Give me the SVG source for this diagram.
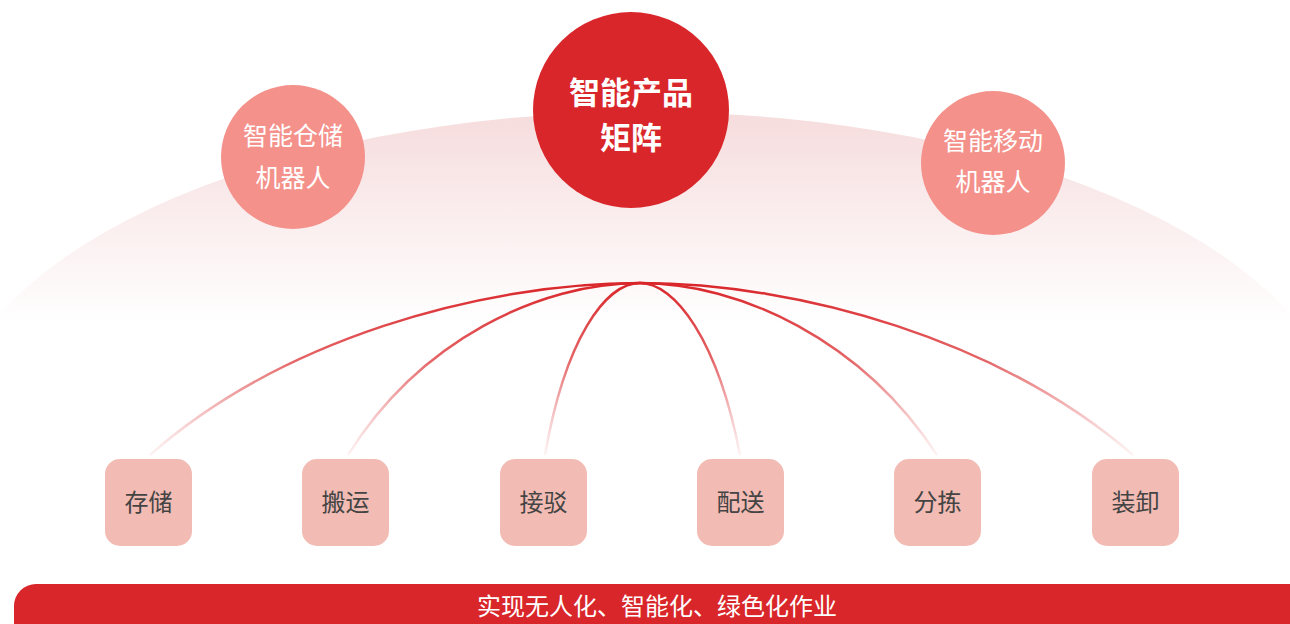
<svg xmlns="http://www.w3.org/2000/svg" width="1290" height="624" viewBox="0 0 1290 624">
  <defs>
    <linearGradient id="bgGrad" gradientUnits="userSpaceOnUse" x1="0" y1="112" x2="0" y2="325">
      <stop offset="0" stop-color="#f6dcdd"/>
      <stop offset="1" stop-color="#ffffff"/>
    </linearGradient>
    <linearGradient id="lineGrad" gradientUnits="userSpaceOnUse" x1="0" y1="283" x2="0" y2="456">
      <stop offset="0" stop-color="#d9262a" stop-opacity="1"/>
      <stop offset="0.45" stop-color="#e04a4d" stop-opacity="0.85"/>
      <stop offset="1" stop-color="#ec8f8f" stop-opacity="0.1"/>
    </linearGradient>
  </defs>
  <style>
    .cjk { font-family: "Noto Sans CJK SC", "Noto Sans", sans-serif; text-anchor: middle; }
    .main { fill: #d9262a; }
    .sub { fill: #f4918b; }
    .box { fill: #f2bbb3; }
    .t-main { fill: #ffffff; font-size: 31px; font-weight: bold; }
    .t-sub { fill: #ffffff; font-size: 25px; }
    .t-box { fill: #444444; font-size: 24px; }
    .t-bar { fill: #ffffff; font-size: 24px; }
    .link { fill: none; stroke: url(#lineGrad); stroke-width: 2.5; }
  </style>
  <rect width="1290" height="624" fill="#ffffff"/>
  <ellipse cx="645" cy="442" rx="700" ry="330" fill="url(#bgGrad)"/>
  <rect x="0" y="325" width="1290" height="299" fill="#ffffff"/>

  <g id="connectors">
    <path class="link" d="M640,283 C480,283 280,340 150,455"/>
    <path class="link" d="M640,283 C540,283 420,340 348,455"/>
    <path class="link" d="M640,283 C605,283 565,340 545,455"/>
    <path class="link" d="M640,283 C675,283 718,340 740,455"/>
    <path class="link" d="M640,283 C740,283 862,340 937,455"/>
    <path class="link" d="M640,283 C800,283 1000,340 1133,455"/>
  </g>

  <g id="node-main">
    <circle class="main" cx="631" cy="110" r="98"/>
    <text class="cjk t-main" x="631" y="104">智能产品</text>
    <text class="cjk t-main" x="631" y="149">矩阵</text>
  </g>
  <g id="node-warehouse">
    <circle class="sub" cx="293" cy="157" r="72"/>
    <text class="cjk t-sub" x="293" y="145">智能仓储</text>
    <text class="cjk t-sub" x="293" y="187">机器人</text>
  </g>
  <g id="node-mobile">
    <circle class="sub" cx="993" cy="163" r="72"/>
    <text class="cjk t-sub" x="993" y="150">智能移动</text>
    <text class="cjk t-sub" x="993" y="191">机器人</text>
  </g>

  <g id="box-storage">
    <rect class="box" x="105" y="459" width="87" height="87" rx="15"/>
    <text class="cjk t-box" x="148.5" y="511">存储</text>
  </g>
  <g id="box-transport">
    <rect class="box" x="302" y="459" width="87" height="87" rx="15"/>
    <text class="cjk t-box" x="345.5" y="511">搬运</text>
  </g>
  <g id="box-connect">
    <rect class="box" x="500" y="459" width="87" height="87" rx="15"/>
    <text class="cjk t-box" x="543.5" y="511">接驳</text>
  </g>
  <g id="box-delivery">
    <rect class="box" x="697" y="459" width="87" height="87" rx="15"/>
    <text class="cjk t-box" x="740.5" y="511">配送</text>
  </g>
  <g id="box-sorting">
    <rect class="box" x="894" y="459" width="87" height="87" rx="15"/>
    <text class="cjk t-box" x="937.5" y="511">分拣</text>
  </g>
  <g id="box-loading">
    <rect class="box" x="1092" y="459" width="87" height="87" rx="15"/>
    <text class="cjk t-box" x="1135.5" y="511">装卸</text>
  </g>

  <g id="bar">
    <rect class="main" x="14" y="584" width="1296" height="60" rx="22"/>
    <text class="cjk t-bar" x="657" y="615">实现无人化、智能化、绿色化作业</text>
  </g>
</svg>
